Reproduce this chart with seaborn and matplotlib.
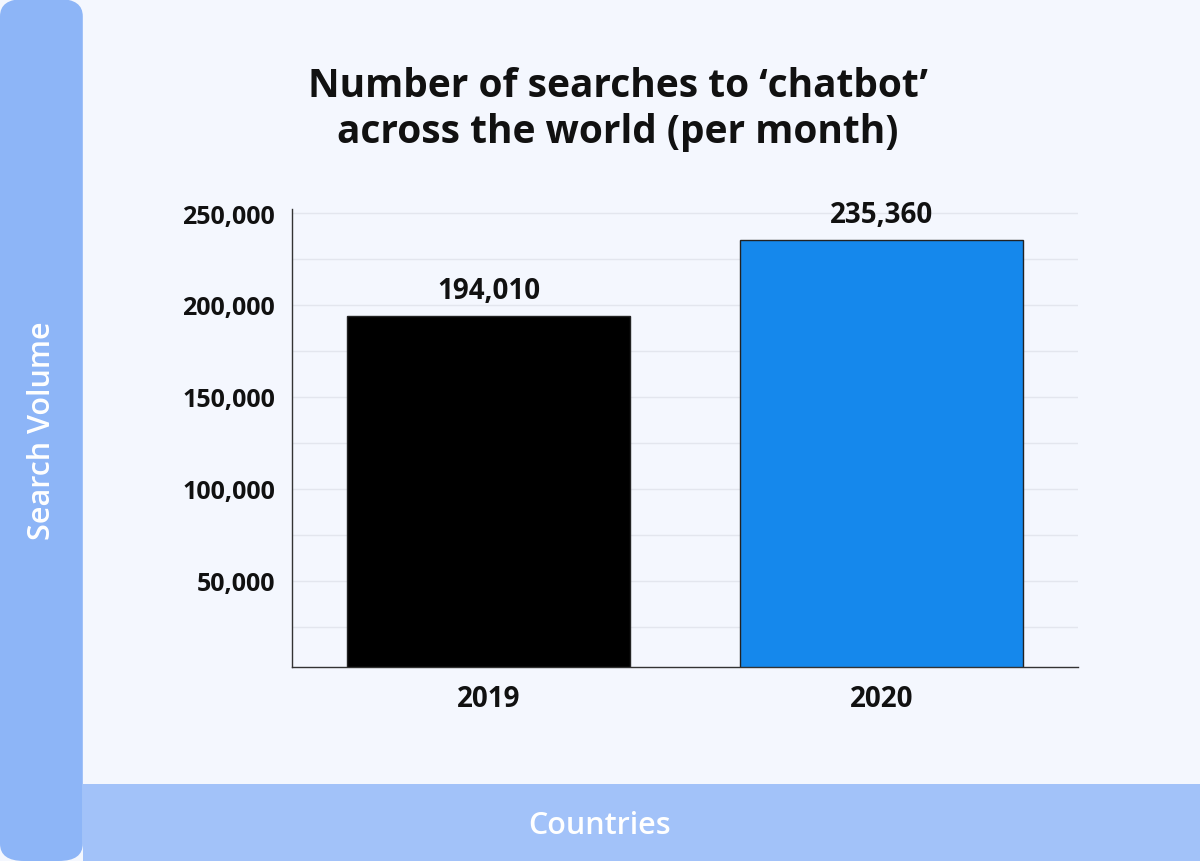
import matplotlib
matplotlib.use("Agg")
import matplotlib.pyplot as plt
import seaborn as sns
import pandas as pd
from matplotlib.patches import FancyBboxPatch, Rectangle

years = ["2019", "2020"]
searches = [194010, 235360]
bar_colors = ["#000000", "#1588EC"]
yticks = [50000, 100000, 150000, 200000, 250000]

sns.set_theme(style="white")
plt.rcParams['font.family'] = ['Open Sans', 'DejaVu Sans']

fig = plt.figure(figsize=(12, 8.62), dpi=100)
fig.patch.set_facecolor("#F4F7FE")
fig.patches.append(FancyBboxPatch((0.0, 0.0), 0.069, 1.0, boxstyle="round,pad=0,rounding_size=0.02",
                                  transform=fig.transFigure, facecolor="#8DB5F7", edgecolor="none", zorder=0))
fig.patches.append(Rectangle((0.069, 0.0), 0.931, 0.089, transform=fig.transFigure,
                             facecolor="#A2C2F9", edgecolor="none", zorder=0))
fig.text(0.035, 0.5, "Search Volume", rotation=90, color="white", fontsize=22,
         fontweight="semibold", ha="center", va="center")
fig.text(0.5, 0.042, "Countries", color="white", fontsize=22, fontweight="semibold",
         ha="center", va="center")

ax = fig.add_axes([0.2433, 0.225, 0.655, 0.531])
ax.set_facecolor("#F4F7FE")
df = pd.DataFrame({"year": years, "v": searches})
sns.barplot(data=df, x="year", y="v", hue="year", palette=bar_colors, legend=False,
            saturation=1, width=0.72, edgecolor="#222222", linewidth=1, ax=ax)
for i, v in enumerate(searches):
    ax.text(i, v + 6000, f"{v:,}", ha="center", va="bottom", fontsize=20, fontweight="bold", color="#111111")
ax.set_xlim(-0.5, 1.5)
ax.set_ylim(3000, 252000)
ax.set_yticks(yticks)
ax.set_yticklabels([f"{t:,}" for t in yticks], fontsize=18, fontweight="bold", color="#111111")
ax.set_xticks(range(len(years)))
ax.set_xticklabels(years, fontsize=20, fontweight="bold", color="#111111")
ax.tick_params(axis="both", length=0, pad=12)
for t in range(25000, 250001, 25000):
    ax.axhline(t, color="#E3E6EE", linewidth=1, zorder=0)
ax.set_axisbelow(True)
for s in ["top", "right"]:
    ax.spines[s].set_visible(False)
for s in ["left", "bottom"]:
    ax.spines[s].set_color("#333333")
    ax.spines[s].set_linewidth(1)
ax.set_xlabel("")
ax.set_ylabel("")
fig.text(0.515, 0.873, "Number of searches to \u2018chatbot\u2019\nacross the world (per month)",
         ha="center", va="center", fontsize=28, fontweight="bold", color="#111111", linespacing=1.25)
fig.savefig("out.png", dpi=100, facecolor=fig.get_facecolor())
